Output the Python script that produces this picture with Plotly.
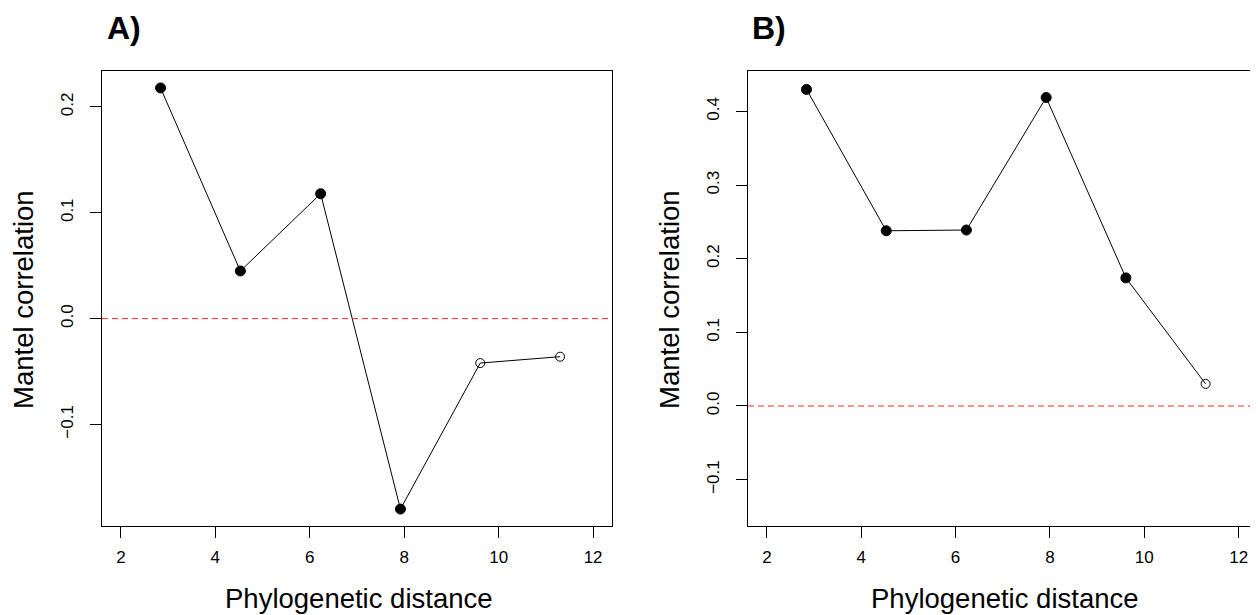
import plotly.graph_objects as go

# ---- data ----
distance = [2.84, 4.53, 6.23, 7.92, 9.61, 11.30]
mantel_A = [0.218, 0.045, 0.118, -0.180, -0.042, -0.036]
signif_A = [True, True, True, True, False, False]
mantel_B = [0.430, 0.238, 0.239, 0.419, 0.174, 0.030]
signif_B = [True, True, True, True, True, False]
x_ticks = [2, 4, 6, 8, 10, 12]
y_ticks_A = [-0.1, 0.0, 0.1, 0.2]
y_ticks_B = [-0.1, 0.0, 0.1, 0.2, 0.3, 0.4]
panel_labels = ["A)", "B)"]
x_title = "Phylogenetic distance"
y_title = "Mantel correlation"

# the page body has an 8px margin; the figure is sized to fill the rest
OFF = 8
W, H = 1258 - OFF, 615 - OFF
FONT = "Liberation Sans, Arial, Helvetica, sans-serif"


def px(x):
    return (x - OFF) / W


def py(y):
    return 1 - (y - OFF) / H


fig = go.Figure()


def add_panel(idx, y, sig):
    xa = "x" if idx == 1 else "x2"
    ya = "y" if idx == 1 else "y2"
    fig.add_trace(go.Scatter(
        x=distance, y=y, mode="lines+markers", xaxis=xa, yaxis=ya,
        line=dict(color="black", width=1),
        marker=dict(
            symbol=["circle" if s else "circle-open" for s in sig],
            size=[10 if s else 9 for s in sig],
            color="black", opacity=1,
            line=dict(color="black", width=1),
        ),
        showlegend=False, hoverinfo="skip",
    ))
    # zero reference line (abline h=0)
    fig.add_shape(
        type="line", xref="%s domain" % xa, yref=ya,
        x0=0, x1=1, y0=0, y1=0,
        line=dict(color="#ff2a2a", width=1, dash="6px,4px"),
    )


add_panel(1, mantel_A, signif_A)
add_panel(2, mantel_B, signif_B)

ydom = [py(526), py(71)]
common_x = dict(
    range=[1.6, 12.4], tickvals=x_ticks, ticks="outside", ticklen=11,
    tickwidth=1, tickcolor="black", showline=True, linecolor="black",
    linewidth=1, mirror=True, showgrid=False, zeroline=False,
    tickfont=dict(family=FONT, size=17, color="black"),
    ticklabelstandoff=5,
)
common_y = dict(
    ticks="outside", ticklen=11, tickwidth=1, tickcolor="black",
    showline=True, linecolor="black", linewidth=1, mirror=True,
    showgrid=False, zeroline=False, tickformat=".1f", tickangle=-90,
    tickfont=dict(family=FONT, size=17, color="black"), domain=ydom,
    ticklabelstandoff=10,
)

fig.update_layout(
    width=W, height=H,
    margin=dict(l=0, r=0, t=0, b=0),
    paper_bgcolor="white", plot_bgcolor="white",
    xaxis=dict(common_x, domain=[px(102), px(612)], anchor="y"),
    yaxis=dict(common_y, range=[-0.196, 0.234], tickvals=y_ticks_A, anchor="x"),
    xaxis2=dict(common_x, domain=[px(748), px(1257.5)], anchor="y2"),
    yaxis2=dict(common_y, range=[-0.163, 0.455], tickvals=y_ticks_B, anchor="x2"),
)

anns = []
for lab, x0, box_l in [(panel_labels[0], 105, 102), (panel_labels[1], 750, 748)]:
    anns.append(dict(
        text="<b>%s</b>" % lab, x=px(x0), y=py(28), xref="paper", yref="paper",
        xanchor="left", yanchor="middle", showarrow=False,
        font=dict(family=FONT, size=32, color="black"),
    ))
    anns.append(dict(
        text=y_title, x=px(box_l - 79), y=py(300), xref="paper", yref="paper",
        xanchor="center", yanchor="middle", textangle=-90, showarrow=False,
        font=dict(family=FONT, size=27.5, color="black"),
    ))
    anns.append(dict(
        text=x_title, x=px(box_l + 257), y=py(598), xref="paper", yref="paper",
        xanchor="center", yanchor="middle", showarrow=False,
        font=dict(family=FONT, size=27.5, color="black"),
    ))
fig.update_layout(annotations=anns)

fig.write_html("out.html")
